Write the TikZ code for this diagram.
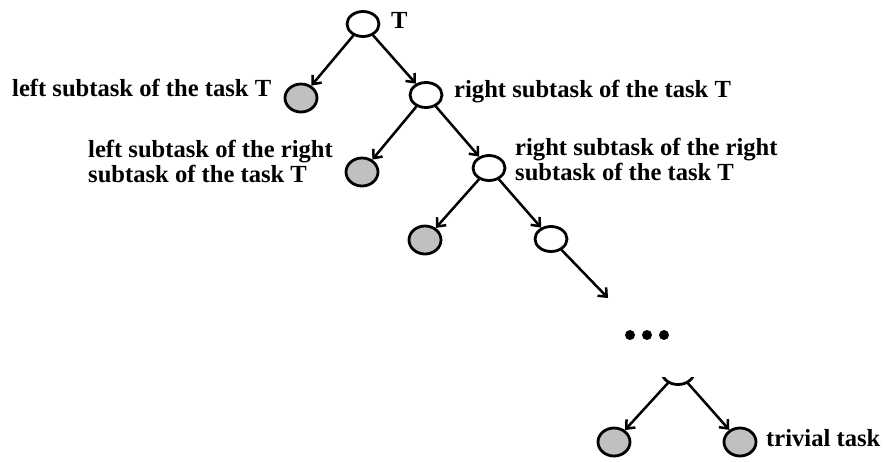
\documentclass[tikz,border=0pt]{standalone}
\usepackage{fontspec}
\setmainfont{Liberation Serif}
\usetikzlibrary{arrows.meta,shapes.geometric}
\definecolor{graynode}{RGB}{192,192,192}
\begin{document}
\begin{tikzpicture}[x=1pt,y=-1pt,
  every node/.style={font=\bfseries\fontsize{24.6}{25.5}\selectfont},
  wn/.style={draw, ellipse, fill=white, line width=2.8pt, minimum width=32pt, minimum height=25pt, inner sep=0pt},
  gn/.style={draw, ellipse, fill=graynode, line width=2.8pt, minimum width=32pt, minimum height=28pt, inner sep=0pt},
  arr/.style={line width=2.5pt, -{Straight Barb[length=7pt,width=12pt]}},
  lbl/.style={anchor=base west, inner sep=0pt}]
\useasboundingbox (0,0) rectangle (883,461);
% nodes
\node[wn] (r) at (363,24) {};
\node[gn] (a) at (301,98) {};
\node[wn] (b) at (426,95) {};
\node[gn] (c) at (362,172) {};
\node[wn] (d) at (489,168) {};
\node[gn] (e) at (425,240) {};
\node[wn] (f) at (551,239) {};
\coordinate (fe) at (608,298);
\node[ellipse, minimum width=32pt, minimum height=25pt, inner sep=0pt] (g) at (678,372) {};
\begin{scope}
  \clip (650,377) rectangle (710,400);
  \draw[line width=2.8pt] (g.center) ellipse [x radius=16, y radius=12.5];
\end{scope}
\node[gn] (h) at (614,442) {};
\node[gn] (i) at (740,442) {};
% dots
\fill (630,335) circle [radius=5];
\fill (647,335) circle [radius=5];
\fill (664,335) circle [radius=5];
% arrows
\draw[arr] (r) -- (a);
\draw[arr] (r) -- (b);
\draw[arr] (b) -- (c);
\draw[arr] (b) -- (d);
\draw[arr] (d) -- (e);
\draw[arr] (d) -- (f);
\draw[arr] (f) -- (fe);
\draw[arr] (g) -- (h);
\draw[arr] (g) -- (i);
% labels
\node[lbl] (tT) at (391,28) {T};
\node[lbl] (tA) at (12,96) {left subtask of the task T};
\node[lbl] (tB) at (454,97) {right subtask of the task T};
\node[lbl] (tC) at (88,157) {\begin{tabular}[t]{@{}l@{}}left subtask of the right\\subtask of the task T\end{tabular}};
\node[lbl] (tD) at (515,155) {\begin{tabular}[t]{@{}l@{}}right subtask of the right\\subtask of the task T\end{tabular}};
\node[lbl] (tI) at (766,446) {trivial task};
\end{tikzpicture}
\end{document}
